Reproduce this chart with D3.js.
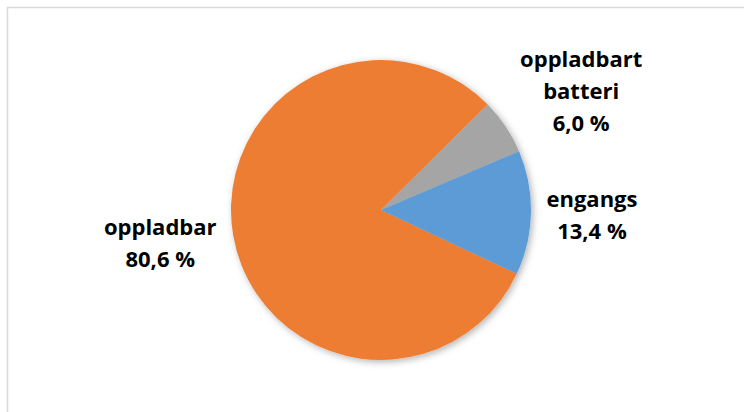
<!DOCTYPE html>
<html>
<head>
  <meta charset="UTF-8">
  <style>
    body {
      margin: 0;
      background-color: #ffffff;
    }
    svg {
      display: block;
    }
    .lbl {
      font-family: 'Open Sans', sans-serif;
      font-weight: bold;
      font-size: 22px;
      fill: #000000;
    }
  </style>
</head>
<body>

<svg></svg>

<script src="https://d3js.org/d3.v7.min.js"></script>

<script>
// data
let categories = ["oppladbar", "oppladbart batteri", "engangs"];
let shares = [80.6, 6.0, 13.4];
let labelLines = [["oppladbar"], ["oppladbart", "batteri"], ["engangs"]];

let colors = ["#ED7D31", "#A5A5A5", "#5B9BD5"];
// how far out each label sits and a small vertical nudge
let labelRadius = [224, 241, 211];
let labelNudge = [-4, 16, 2];

let width = 744, height = 412;
let cx = 381, cy = 210, radius = 150;

let svg = d3.select("svg")
    .attr("width", width)
    .attr("height", height);

let defs = svg.append("defs");
let shadow = defs.append("filter")
    .attr("id", "shadow")
    .attr("x", "-20%").attr("y", "-20%")
    .attr("width", "140%").attr("height", "140%");
shadow.append("feDropShadow")
    .attr("dx", 2)
    .attr("dy", 2)
    .attr("stdDeviation", 3.5)
    .attr("flood-color", "#000")
    .attr("flood-opacity", 0.3);

// chart area border (runs off the right and bottom of the picture)
svg.append("rect")
    .attr("x", 7.5)
    .attr("y", 7.5)
    .attr("width", width + 20)
    .attr("height", height + 20)
    .attr("fill", "none")
    .attr("stroke", "#d9d9d9")
    .attr("stroke-width", 1.5);

let data = categories.map((c, i) => ({name: c, value: shares[i], idx: i}));

let pie = d3.pie()
    .sort(null)
    .value(d => d.value)
    .startAngle(115.2 * Math.PI / 180)
    .endAngle(115.2 * Math.PI / 180 + 2 * Math.PI);

let arcs = pie(data);

let arc = d3.arc()
    .innerRadius(0)
    .outerRadius(radius);

let g = svg.append("g")
    .attr("transform", "translate(" + cx + "," + cy + ")");

g.append("g")
    .attr("filter", "url(#shadow)")
    .selectAll("path")
    .data(arcs)
    .enter()
    .append("path")
    .attr("d", arc)
    .attr("fill", d => colors[d.data.idx]);

let fmt = v => d3.format(".1f")(v).replace(".", ",") + " %";

let labels = g.selectAll("text.lbl")
    .data(arcs)
    .enter()
    .append("text")
    .attr("class", "lbl")
    .attr("text-anchor", "middle")
    .each(function(d) {
      let i = d.data.idx;
      let la = d3.arc().innerRadius(labelRadius[i]).outerRadius(labelRadius[i]);
      let p = la.centroid(d);
      let lines = labelLines[i].concat([fmt(d.data.value)]);
      let n = lines.length;
      let t = d3.select(this);
      lines.forEach((s, k) => {
        t.append("tspan")
          .attr("x", p[0])
          .attr("y", p[1] + labelNudge[i] + (k - (n - 1) / 2) * 32 + 7.5)
          .text(s);
      });
    });
</script>

</body>
</html>
